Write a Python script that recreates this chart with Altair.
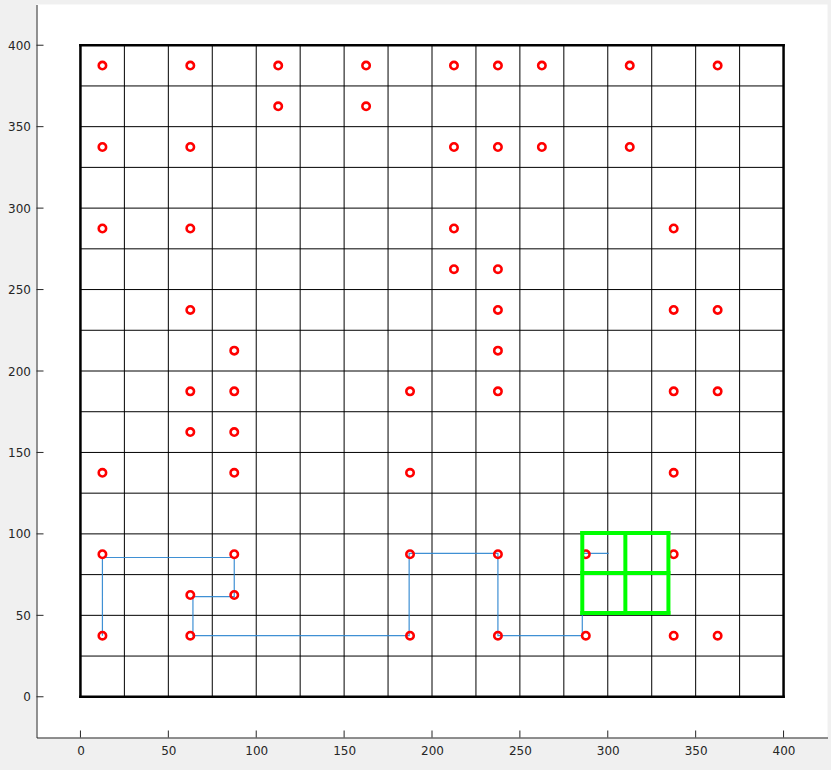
import altair as alt
import pandas as pd

# grid and ticks
grid_vals = list(range(0, 401, 25))
border_vals = [0, 400]
tick_vals = list(range(0, 401, 50))

# red circles (cell centres)
pts_x = [12.5, 62.5, 112.5, 162.5, 212.5, 237.5, 262.5, 312.5, 362.5,
         112.5, 162.5,
         12.5, 62.5, 212.5, 237.5, 262.5, 312.5,
         12.5, 62.5, 212.5, 337.5,
         212.5, 237.5,
         62.5, 237.5, 337.5, 362.5,
         87.5, 237.5,
         62.5, 87.5, 187.5, 237.5, 337.5, 362.5,
         62.5, 87.5,
         12.5, 87.5, 187.5, 337.5,
         12.5, 87.5, 187.5, 237.5, 287.5, 337.5,
         62.5, 87.5,
         12.5, 62.5, 187.5, 237.5, 287.5, 337.5, 362.5]
pts_y = [387.5] * 9 + [362.5] * 2 + [337.5] * 6 + [287.5] * 4 + [262.5] * 2 + \
        [237.5] * 4 + [212.5] * 2 + [187.5] * 6 + [162.5] * 2 + [137.5] * 4 + \
        [87.5] * 6 + [62.5] * 2 + [37.5] * 7

# blue path
path_x = [12.5, 12.5, 87.5, 87.5, 64, 64, 187, 187, 237.5, 237.5, 285.5, 285.5, 300.5]
path_y = [37.5, 85.5, 85.5, 61.5, 61.5, 37.5, 37.5, 88, 88, 37.5, 37.5, 88, 88]

# green window
green_x = [285.5, 310, 334.5]
green_y = [51.5, 76, 100.5]

W, H = 791, 733
FONT = "DejaVu Sans"
INK = "#262626"

xs = alt.Scale(domain=[-25, 425], nice=False, zero=False)
ys = alt.Scale(domain=[-25, 425], nice=False, zero=False)

axX = alt.Axis(values=tick_vals, grid=False, tickSize=0, domainColor=INK, domainWidth=1,
               labelFont=FONT, labelFontSize=12, labelColor=INK, labelPadding=8, title=None)
axY = alt.Axis(values=tick_vals, grid=False, tickSize=0, domainColor=INK, domainWidth=1,
               labelFont=FONT, labelFontSize=12, labelColor=INK, labelPadding=6, title=None)

gmin, gmax = min(grid_vals), max(grid_vals)

df_grid = pd.DataFrame({"g": grid_vals, "lo": gmin, "hi": gmax})
df_border = pd.DataFrame({"g": border_vals, "lo": gmin, "hi": gmax})

vgrid = alt.Chart(df_grid).mark_rule(color="black", strokeWidth=1).encode(
    x=alt.X("g:Q", scale=xs, axis=axX), y=alt.Y("lo:Q", scale=ys, axis=axY), y2="hi:Q")
hgrid = alt.Chart(df_grid).mark_rule(color="black", strokeWidth=1).encode(
    y=alt.Y("g:Q", scale=ys), x=alt.X("lo:Q", scale=xs), x2="hi:Q")
vborder = alt.Chart(df_border).mark_rule(color="black", strokeWidth=2.5, strokeCap="square").encode(
    x=alt.X("g:Q", scale=xs), y=alt.Y("lo:Q", scale=ys), y2="hi:Q")
hborder = alt.Chart(df_border).mark_rule(color="black", strokeWidth=2.5, strokeCap="square").encode(
    y=alt.Y("g:Q", scale=ys), x=alt.X("lo:Q", scale=xs), x2="hi:Q")

df_path = pd.DataFrame({"x": path_x, "y": path_y, "i": list(range(len(path_x)))})
path = alt.Chart(df_path).mark_line(color="#2a84cf", strokeWidth=1.2, opacity=0.9).encode(
    x=alt.X("x:Q", scale=xs), y=alt.Y("y:Q", scale=ys), order="i:Q")

df_pts = pd.DataFrame({"x": pts_x, "y": pts_y})
pts = alt.Chart(df_pts).mark_point(shape="circle", filled=False, color="#ff0000",
                                   strokeWidth=2.6, size=55, opacity=1).encode(
    x=alt.X("x:Q", scale=xs), y=alt.Y("y:Q", scale=ys))

df_gv = pd.DataFrame({"g": green_x, "lo": min(green_y), "hi": max(green_y)})
df_gh = pd.DataFrame({"g": green_y, "lo": min(green_x), "hi": max(green_x)})
gv = alt.Chart(df_gv).mark_rule(color="#00ff00", strokeWidth=4, strokeCap="square").encode(
    x=alt.X("g:Q", scale=xs), y=alt.Y("lo:Q", scale=ys), y2="hi:Q")
gh = alt.Chart(df_gh).mark_rule(color="#00ff00", strokeWidth=4, strokeCap="square").encode(
    y=alt.Y("g:Q", scale=ys), x=alt.X("lo:Q", scale=xs), x2="hi:Q")

df_t = pd.DataFrame({"t": tick_vals})
xt = alt.Chart(df_t).mark_rule(color=INK, strokeWidth=1).encode(
    x=alt.X("t:Q", scale=xs), y=alt.value(H), y2=alt.value(H - 7))
yt = alt.Chart(df_t).mark_rule(color=INK, strokeWidth=1).encode(
    y=alt.Y("t:Q", scale=ys), x=alt.value(0), x2=alt.value(7))

chart = alt.layer(vgrid, hgrid, vborder, hborder, path, pts, gv, gh, xt, yt).properties(
    width=W, height=H,
    autosize=alt.AutoSizeParams(type="none"),
    padding={"left": 36.5, "top": 4.5, "right": 3.5, "bottom": 32.5},
).configure(background="#f0f0f0").configure_view(fill="white", stroke=None)

chart.save("out.html", embed_options={"renderer": "svg", "actions": False})
